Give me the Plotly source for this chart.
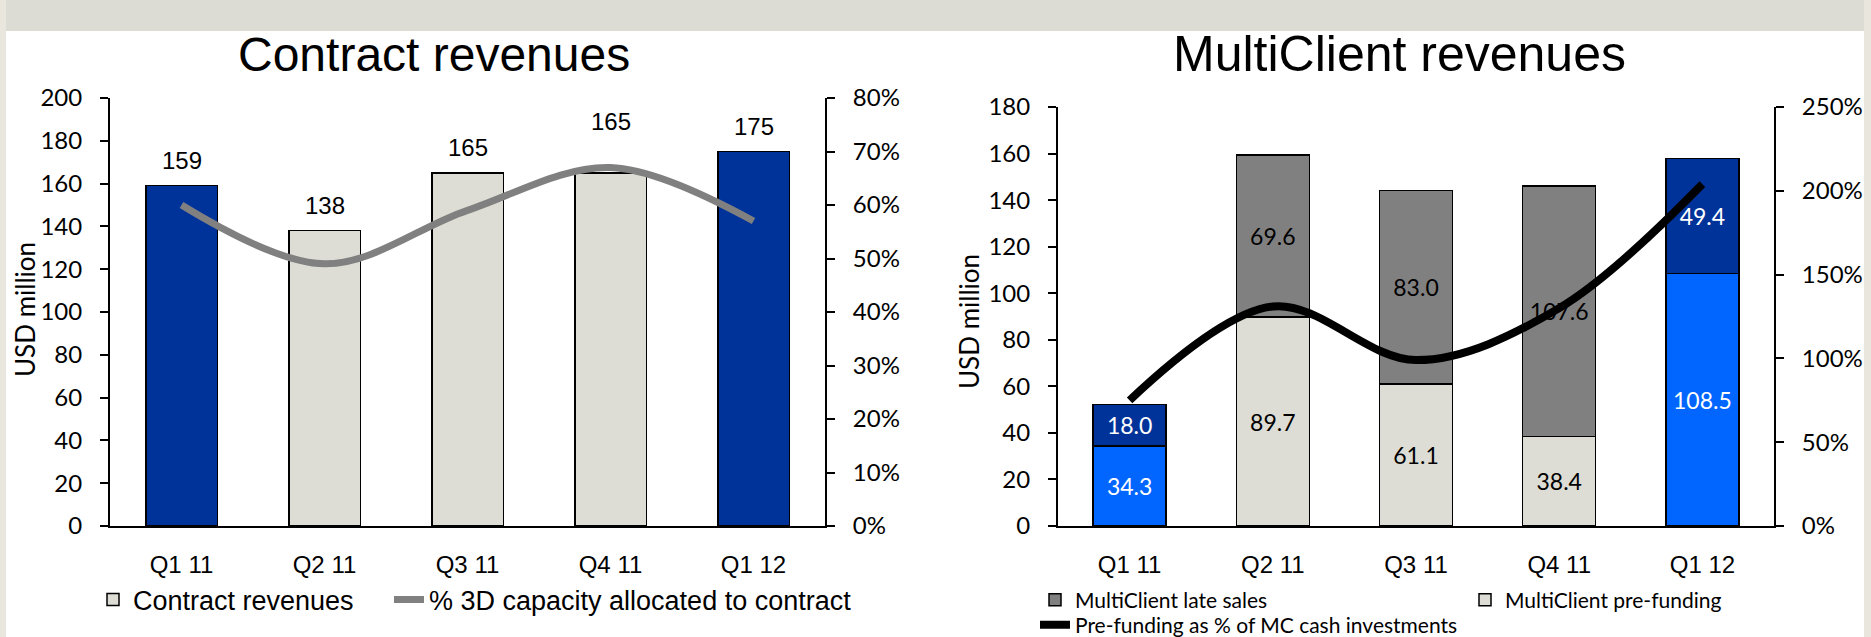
import plotly.graph_objects as go

# ---------------- data ----------------
quarters = ["Q1 11", "Q2 11", "Q3 11", "Q4 11", "Q1 12"]
contract_revenues = [159, 138, 165, 165, 175]
capacity_pct = [60, 49, 59, 67, 57]
highlighted = [True, False, False, False, True]

mc_prefunding = [34.3, 89.7, 61.1, 38.4, 108.5]
mc_late_sales = [18.0, 69.6, 83.0, 107.6, 49.4]
prefunding_pct = [75, 131, 99, 130, 204]

# ---------------- style ----------------
W, H = 1871, 637
DARK_BLUE = "#003399"
BRIGHT_BLUE = "#0066FF"
LIGHT_GREY = "#DDDDD5"
MID_GREY = "#808080"
ARIAL = "Liberation Sans, Arial, sans-serif"
CALIBRI = "Lato, Carlito, Calibri, sans-serif"


def pick(values, mask, keep=True):
    return [v if m == keep else None for v, m in zip(values, mask)]


def px_x(p):
    return p / W


def px_y(p):
    return (H - p) / H


fig = go.Figure()

# ---------- left chart: contract revenues ----------
fig.add_trace(go.Bar(
    x=quarters, y=pick(contract_revenues, highlighted, False),
    name="Contract revenues", width=0.5,
    marker=dict(color=LIGHT_GREY, line=dict(color="black", width=1.5)),
    xaxis="x", yaxis="y", legend="legend"))
fig.add_trace(go.Bar(
    x=quarters, y=pick(contract_revenues, highlighted, True),
    name="Contract revenues (Q1)", width=0.5, showlegend=False,
    marker=dict(color=DARK_BLUE, line=dict(color="black", width=1.5)),
    xaxis="x", yaxis="y"))
fig.add_trace(go.Scatter(
    x=quarters, y=capacity_pct, mode="lines",
    name="% 3D capacity allocated to contract",
    line=dict(color=MID_GREY, width=7, shape="spline"),
    xaxis="x", yaxis="y2", legend="legend2"))

# ---------- right chart: MultiClient revenues ----------
def fmt(vals):
    return [None if v is None else f"{v:.1f}" for v in vals]

pf_grey = pick(mc_prefunding, highlighted, False)
pf_blue = pick(mc_prefunding, highlighted, True)
ls_grey = pick(mc_late_sales, highlighted, False)
ls_blue = pick(mc_late_sales, highlighted, True)

bar_text = dict(textposition="inside", insidetextanchor="middle",
                constraintext="none", textangle=0)

fig.add_trace(go.Bar(
    x=quarters, y=pf_grey, name="MultiClient pre-funding", width=0.51,
    text=fmt(pf_grey), textfont=dict(family=CALIBRI, size=23, color="black"),
    marker=dict(color=LIGHT_GREY, line=dict(color="black", width=1.5)),
    xaxis="x2", yaxis="y3", legend="legend4", **bar_text))
fig.add_trace(go.Bar(
    x=quarters, y=pf_blue, name="MultiClient pre-funding (Q1)", width=0.51,
    showlegend=False,
    text=fmt(pf_blue), textfont=dict(family=CALIBRI, size=23, color="white"),
    marker=dict(color=BRIGHT_BLUE, line=dict(color="black", width=1.5)),
    xaxis="x2", yaxis="y3", **bar_text))
fig.add_trace(go.Bar(
    x=quarters, y=ls_grey, name="MultiClient late sales", width=0.51,
    text=fmt(ls_grey), textfont=dict(family=CALIBRI, size=23, color="black"),
    marker=dict(color=MID_GREY, line=dict(color="black", width=1.5)),
    xaxis="x2", yaxis="y3", legend="legend3", **bar_text))
fig.add_trace(go.Bar(
    x=quarters, y=ls_blue, name="MultiClient late sales (Q1)", width=0.51,
    showlegend=False,
    text=fmt(ls_blue), textfont=dict(family=CALIBRI, size=23, color="white"),
    marker=dict(color=DARK_BLUE, line=dict(color="black", width=1.5)),
    xaxis="x2", yaxis="y3", **bar_text))
fig.add_trace(go.Scatter(
    x=quarters, y=prefunding_pct, mode="lines",
    name="Pre-funding as % of MC cash investments",
    line=dict(color="black", width=8, shape="spline"),
    xaxis="x2", yaxis="y4", legend="legend5"))

# ---------- value labels above contract bars ----------
annotations = []
for q, v, p in zip(quarters, contract_revenues, capacity_pct):
    line_level = p * 200 / 80  # line height in bar-axis units
    shift = 36 if line_level >= v - 5 else 10
    annotations.append(dict(
        x=q, y=v, xref="x", yref="y", text=str(v), showarrow=False,
        yanchor="bottom", yshift=shift,
        font=dict(family=ARIAL, size=24, color="black")))

# ---------- chart titles ----------
annotations.append(dict(x=px_x(434), y=px_y(54), xref="paper", yref="paper",
                        text="Contract revenues", showarrow=False,
                        xanchor="center", yanchor="middle",
                        font=dict(family=ARIAL, size=48, color="black")))
annotations.append(dict(x=px_x(1399), y=px_y(54), xref="paper", yref="paper",
                        text="MultiClient revenues", showarrow=False,
                        xanchor="center", yanchor="middle",
                        font=dict(family=ARIAL, size=50, color="black")))

# ---------- y-axis titles ----------
ytitle_font = dict(family=CALIBRI, size=26, color="black")
annotations.append(dict(x=px_x(25), y=px_y(310), xref="paper", yref="paper",
                        text="USD million", textangle=-90, showarrow=False,
                        xanchor="center", yanchor="middle", font=ytitle_font))
annotations.append(dict(x=px_x(969), y=px_y(322), xref="paper", yref="paper",
                        text="USD million", textangle=-90, showarrow=False,
                        xanchor="center", yanchor="middle", font=ytitle_font))

axis_common = dict(showline=True, linecolor="black", linewidth=2,
                   showgrid=False, zeroline=False, color="black")
y_common = dict(axis_common, ticks="outside", ticklen=8, tickwidth=2,
                tickcolor="black", ticklabelstandoff=13,
                tickfont=dict(family=CALIBRI, size=24, color="black"))
x_common = dict(axis_common, ticks="", type="category",
                ticklabelstandoff=16,
                tickfont=dict(family=ARIAL, size=24, color="black"))

LEFT_DOM = [px_x(110), px_x(825)]
RIGHT_DOM = [px_x(1058), px_x(1774)]
LEFT_Y = [px_y(526), px_y(98)]
RIGHT_Y = [px_y(526), px_y(107)]

legend_common = dict(orientation="h", xanchor="left", yanchor="middle",
                     xref="container", yref="container",
                     traceorder="normal", bgcolor="rgba(0,0,0,0)")
left_legend_font = dict(family=ARIAL, size=27, color="black")
right_legend_font = dict(family=CALIBRI, size=21, color="black")

fig.update_layout(
    width=W, height=H, autosize=False,
    margin=dict(l=0, r=0, t=0, b=0, autoexpand=False),
    paper_bgcolor="white", plot_bgcolor="rgba(0,0,0,0)",
    barmode="stack",
    xaxis=dict(x_common, domain=LEFT_DOM, anchor="y"),
    yaxis=dict(y_common, domain=LEFT_Y, anchor="x", range=[0, 200], dtick=20),
    yaxis2=dict(y_common, overlaying="y", side="right", anchor="x",
                range=[0, 80], dtick=10, ticksuffix="%"),
    xaxis2=dict(x_common, domain=RIGHT_DOM, anchor="y3"),
    yaxis3=dict(y_common, domain=RIGHT_Y, anchor="x2", range=[0, 180], dtick=20),
    yaxis4=dict(y_common, overlaying="y3", side="right", anchor="x2",
                range=[0, 250], dtick=50, ticksuffix="%"),
    legend=dict(legend_common, x=px_x(93), y=px_y(600), font=left_legend_font),
    legend2=dict(legend_common, x=px_x(389), y=px_y(600), font=left_legend_font),
    legend3=dict(legend_common, x=px_x(1035), y=px_y(600), font=right_legend_font),
    legend4=dict(legend_common, x=px_x(1465), y=px_y(600), font=right_legend_font),
    legend5=dict(legend_common, x=px_x(1035), y=px_y(625), font=right_legend_font),
    annotations=annotations,
    shapes=[
        dict(type="rect", xref="paper", yref="paper", x0=0, x1=1,
             y0=px_y(31), y1=1, fillcolor="#DDDCD4", line=dict(width=0),
             layer="below"),
        dict(type="rect", xref="paper", yref="paper", x0=0, x1=px_x(6),
             y0=0, y1=1, fillcolor="#E8E6DD", line=dict(width=0),
             layer="below"),
        dict(type="rect", xref="paper", yref="paper", x0=px_x(1864), x1=1,
             y0=0, y1=1, fillcolor="#E8E6DD", line=dict(width=0),
             layer="below"),
    ],
)

fig.write_html("out.html", config={"displayModeBar": False},
               post_script="document.body.style.margin='0';")
